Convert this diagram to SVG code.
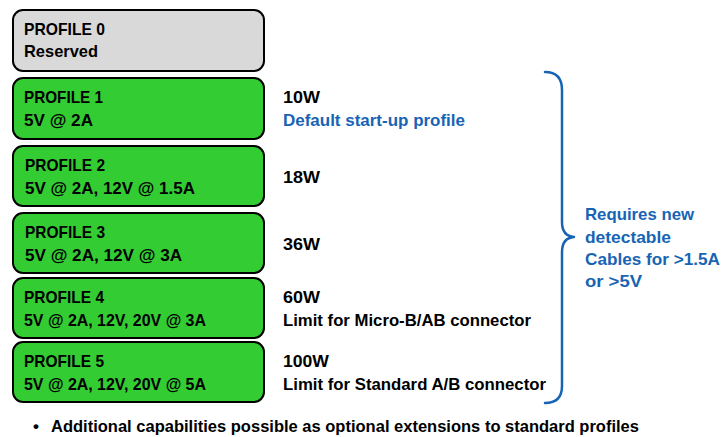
<svg xmlns="http://www.w3.org/2000/svg" width="723" height="437" viewBox="0 0 723 437">
  <style>
    text { font-family: "Liberation Sans", Arial, sans-serif; font-weight: bold; font-size: 17px; fill: #000; }
    .blue { fill: #1864b4; }
    .box { stroke: #000; stroke-width: 2; }
    .reserved { fill: #d9d9d9; }
    .profile { fill: #33cc33; }
    .brace { fill: none; stroke: #1864b4; stroke-width: 2.5; stroke-linecap: round; stroke-linejoin: round; }
  </style>

  <!-- profile boxes -->
  <g id="profile0">
    <rect class="box reserved" x="13" y="10" width="251" height="61" rx="10"/>
    <text x="24" y="35" textLength="81" lengthAdjust="spacingAndGlyphs">PROFILE 0</text>
    <text x="24" y="57" textLength="74" lengthAdjust="spacingAndGlyphs">Reserved</text>
  </g>
  <g id="profile1">
    <rect class="box profile" x="13" y="78" width="251" height="61" rx="10"/>
    <text x="24" y="103" textLength="79" lengthAdjust="spacingAndGlyphs">PROFILE 1</text>
    <text x="24" y="126" textLength="69" lengthAdjust="spacingAndGlyphs">5V @ 2A</text>
  </g>
  <g id="profile2">
    <rect class="box profile" x="13" y="146" width="251" height="60" rx="10"/>
    <text x="25" y="171" textLength="80" lengthAdjust="spacingAndGlyphs">PROFILE 2</text>
    <text x="25" y="194" textLength="170" lengthAdjust="spacingAndGlyphs">5V @ 2A, 12V @ 1.5A</text>
  </g>
  <g id="profile3">
    <rect class="box profile" x="13" y="213" width="251" height="60" rx="10"/>
    <text x="25" y="238" textLength="80" lengthAdjust="spacingAndGlyphs">PROFILE 3</text>
    <text x="25" y="261" textLength="157" lengthAdjust="spacingAndGlyphs">5V @ 2A, 12V @ 3A</text>
  </g>
  <g id="profile4">
    <rect class="box profile" x="13" y="278" width="251" height="60" rx="10"/>
    <text x="24" y="303" textLength="80" lengthAdjust="spacingAndGlyphs">PROFILE 4</text>
    <text x="24" y="326" textLength="182" lengthAdjust="spacingAndGlyphs">5V @ 2A, 12V, 20V @ 3A</text>
  </g>
  <g id="profile5">
    <rect class="box profile" x="13" y="342" width="251" height="60" rx="10"/>
    <text x="24" y="367" textLength="80" lengthAdjust="spacingAndGlyphs">PROFILE 5</text>
    <text x="24" y="390" textLength="182" lengthAdjust="spacingAndGlyphs">5V @ 2A, 12V, 20V @ 5A</text>
  </g>

  <!-- power ratings -->
  <g id="ratings">
    <text x="283" y="103" textLength="37" lengthAdjust="spacingAndGlyphs">10W</text>
    <text class="blue" x="283" y="126" textLength="182" lengthAdjust="spacingAndGlyphs">Default start-up profile</text>
    <text x="283" y="183" textLength="37" lengthAdjust="spacingAndGlyphs">18W</text>
    <text x="283" y="250" textLength="37" lengthAdjust="spacingAndGlyphs">36W</text>
    <text x="283" y="303" textLength="37" lengthAdjust="spacingAndGlyphs">60W</text>
    <text x="283" y="326" textLength="248" lengthAdjust="spacingAndGlyphs">Limit for Micro-B/AB connector</text>
    <text x="283" y="367" textLength="46" lengthAdjust="spacingAndGlyphs">100W</text>
    <text x="283" y="390" textLength="263" lengthAdjust="spacingAndGlyphs">Limit for Standard A/B connector</text>
  </g>

  <!-- brace grouping profiles 1-5 -->
  <g id="connectors">
    <path class="brace" d="M545,72 Q562,72 562,90 L562,222 Q562,236 574,237 Q562,238 562,252 L562,386 Q562,403 545,403"/>
  </g>

  <g id="cable-note">
    <text class="blue" x="585" y="220" textLength="109" lengthAdjust="spacingAndGlyphs">Requires new</text>
    <text class="blue" x="585" y="243" textLength="86" lengthAdjust="spacingAndGlyphs">detectable</text>
    <text class="blue" x="585" y="265" textLength="135" lengthAdjust="spacingAndGlyphs">Cables for &gt;1.5A</text>
    <text class="blue" x="585" y="287" textLength="57" lengthAdjust="spacingAndGlyphs">or &gt;5V</text>
  </g>

  <g id="footnote">
    <text x="33" y="432">•</text>
    <text x="51" y="432" textLength="588" lengthAdjust="spacingAndGlyphs">Additional capabilities possible as optional extensions to standard profiles</text>
  </g>
</svg>
